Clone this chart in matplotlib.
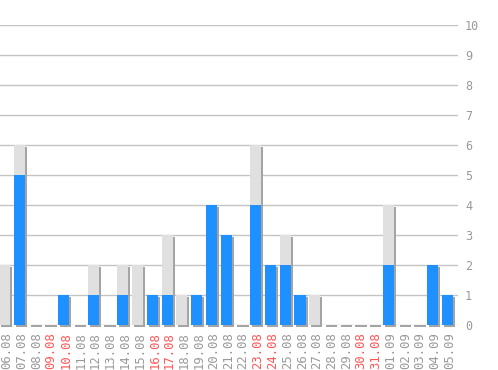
import matplotlib
matplotlib.use("Agg")
import matplotlib.pyplot as plt
import numpy as np

# ─── Données ──────────────────────────────────────────────────────────────────

days = ["06.08", "07.08", "08.08", "09.08", "10.08", "11.08", "12.08", "13.08",
        "14.08", "15.08", "16.08", "17.08", "18.08", "19.08", "20.08", "21.08",
        "22.08", "23.08", "24.08", "25.08", "26.08", "27.08", "28.08", "29.08",
        "30.08", "31.08", "01.09", "02.09", "03.09", "04.09", "05.09"]
weekend = ["09.08", "10.08", "16.08", "17.08", "23.08", "24.08", "30.08", "31.08"]
blue_vals = [0, 5, 0, 0, 1, 0, 1, 0, 1, 0, 1, 1, 0, 1, 4, 3,
             0, 4, 2, 2, 1, 0, 0, 0, 0, 0, 2, 0, 0, 2, 1]
total_vals = [2, 6, 0, 0, 1, 0, 2, 0, 2, 2, 1, 3, 1, 1, 4, 3,
              0, 6, 2, 3, 1, 1, 0, 0, 0, 0, 4, 0, 0, 2, 1]
y_ticks = list(range(0, 11))

# ─── Mise en page ─────────────────────────────────────────────────────────────

W, H = 498, 370
fig = plt.figure(figsize=(W / 100, H / 100), dpi=100)
ax_right = 458
ax = fig.add_axes([0, 45 / H, ax_right / W, 300 / H])

px_x = 14.76          # pixels par catégorie
x0_px = 4.74          # centre de la première barre
ax.set_xlim(-x0_px / px_x, (ax_right - x0_px) / px_x)
ax.set_ylim(0, 10)
px_y = 30.0           # pixels par unité

x = np.arange(len(days))
blue = np.array(blue_vals)
total = np.array(total_vals)
gray = total - blue
bw = 11.2 / px_x

# ombre
dx = 2 / px_x
dy = 2 / px_y
sh_h = np.maximum(total - dy, 0) + dy
ax.bar(x + dx, sh_h, bottom=-dy, width=bw, color="#a4a4a4", zorder=2, clip_on=False)

ax.bar(x, blue, width=bw, color="#1e90ff", zorder=3)
ax.bar(x, gray, bottom=blue, width=bw, color="#e0e0e0", zorder=3)

# grille
for t in y_ticks:
    ax.axhline(t, color="#c4c4c4", lw=1, zorder=1)

for s in ax.spines.values():
    s.set_visible(False)

ax.set_yticks(y_ticks)
ax.yaxis.tick_right()
ax.tick_params(axis="y", length=0, pad=5, labelsize=8.5, labelcolor="#999999")
for lab in ax.get_yticklabels():
    lab.set_family("DejaVu Sans Mono")

ax.set_xticks(x + 0.15)
ax.set_xticklabels(days, rotation=90, family="DejaVu Sans Mono", fontsize=8.8)
ax.tick_params(axis="x", length=0, pad=5)
for lab, d in zip(ax.get_xticklabels(), days):
    lab.set_color("#ff5555" if d in weekend else "#999999")

fig.savefig("out.png", dpi=100)
